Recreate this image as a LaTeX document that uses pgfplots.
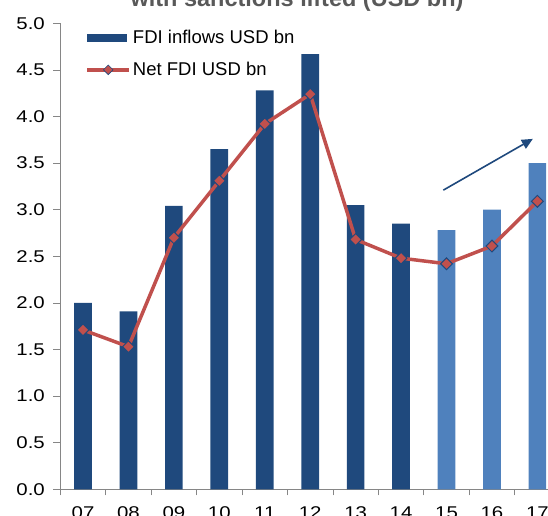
\documentclass[border=0pt]{standalone}
\usepackage{fontspec}
\setmainfont{Liberation Sans}
\newfontfamily\tickfont[FakeStretch=1.2]{Liberation Sans}
\usepackage{pgfplots}
\pgfplotsset{compat=1.18}
\usetikzlibrary{arrows.meta}
\definecolor{navy}{RGB}{31,73,125}
\definecolor{lightblue}{RGB}{79,129,189}
\definecolor{redline}{RGB}{192,80,77}
\definecolor{axisgray}{RGB}{134,134,134}
\definecolor{titlegray}{RGB}{89,89,89}

\begin{document}
\begin{tikzpicture}
\useasboundingbox (-60.3pt,-25.7pt) rectangle (487.7pt,489.3pt);
\begin{axis}[
  at={(0pt,0pt)}, anchor=south west,
  scale only axis, width=499.8pt, height=466pt,
  xmin=-0.5, xmax=10.5, ymin=0, ymax=5,
  axis x line*=bottom, axis y line*=left,
  axis line style={draw=axisgray, line width=0.8pt, -},
  tick align=outside,
  major tick length=7pt, minor tick length=6pt,
  tick style={draw=axisgray, line width=0.8pt},
  major x tick style={draw=none},
  xtick={0,...,10},
  xticklabels={07,08,09,10,11,12,13,14,15,16,17},
  minor xtick={-0.5,0.5,...,10.5},
  ytick={0,0.5,...,5},
  /pgf/number format/assume math mode=true,
  ticklabel style={font=\tickfont\fontsize{17}{20}\selectfont},
  xticklabel style={yshift=-7pt},
  yticklabel style={xshift=-5pt, /pgf/number format/.cd, fixed, fixed zerofill, precision=1},
  legend style={draw=none, fill=none, at={(0,1)}, anchor=north west,
    xshift=22pt, yshift=-3pt, row sep=13pt,
    font=\fontsize{18.5}{22}\selectfont},
  legend cell align=left,
]
\addplot[ybar, bar width=17.7pt, bar shift=0pt, fill=navy, draw=none,
  legend image code/.code={\fill[navy] (0pt,-4.35pt) rectangle (39.4pt,4.35pt);}]
  coordinates {(0,2.00) (1,1.91) (2,3.04) (3,3.65) (4,4.28) (5,4.67) (6,3.05) (7,2.85)};
\addlegendentry{FDI inflows USD bn}
\addplot[ybar, bar width=17.7pt, bar shift=0pt, fill=lightblue, draw=none, forget plot]
  coordinates {(8,2.78) (9,3.00) (10,3.50)};
\addplot[redline, line width=3.5pt, mark=square*, mark size=4.2pt,
  mark options={rotate=45, fill=redline, draw=navy, line width=1pt},
  legend image code/.code={
    \draw[redline, line width=3.5pt] (0pt,0pt) -- (42pt,0pt);
    \filldraw[fill=redline, draw=navy, line width=0.6pt]
      (21pt,4.8pt) -- (25.8pt,0pt) -- (21pt,-4.8pt) -- (16.2pt,0pt) -- cycle;}]
  coordinates {(0,1.71) (1,1.53) (2,2.70) (3,3.31) (4,3.92) (5,4.24) (6,2.68) (7,2.48) (8,2.42) (9,2.61) (10,3.09)};
\addlegendentry{Net FDI USD bn}
\draw[navy, line width=1.6pt, -{Triangle[length=11pt,width=10pt]}]
  (axis cs:7.93,3.21) -- (axis cs:9.90,3.76);
\end{axis}
\node[anchor=base, font=\bfseries\fontsize{23.5}{28}\selectfont, text=titlegray]
  at (236.7pt,482.8pt) {with sanctions lifted (USD bn)};
\end{tikzpicture}
\end{document}
